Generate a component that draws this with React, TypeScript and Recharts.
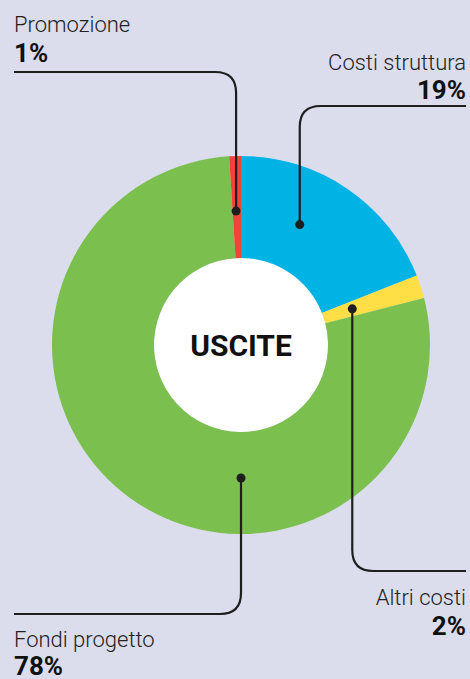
import { PieChart, Pie, Cell } from 'recharts'

const categories = ['Costi struttura', 'Altri costi', 'Fondi progetto', 'Promozione']
const shares = [19, 2, 78, 1]
const colors = ['#00b3e5', '#ffdf45', '#7bbf4f', '#f2433a']
const centerTitle = 'USCITE'

const data = categories.map((name, i) => ({ name, value: shares[i] }))

const W = 470
const H = 679
const CX = 241
const CY = 345
const OUTER = 189
const INNER = 87
const CORNER = 21

// where each leader starts (angle clockwise from 12 o'clock, radius) and where its text sits
const LABELS: Record<
  string,
  { angle: number; r: number; side: 'left' | 'right'; lineY: number; nameY: number; valueY: number }
> = {
  'Costi struttura': { angle: 26, r: 134, side: 'right', lineY: 106, nameY: 70, valueY: 99 },
  'Altri costi': { angle: 72, r: 117, side: 'right', lineY: 571, nameY: 605, valueY: 635 },
  'Fondi progetto': { angle: 180, r: 133, side: 'left', lineY: 614, nameY: 647, valueY: 675 },
  Promozione: { angle: -2.1, r: 134, side: 'left', lineY: 72, nameY: 32, valueY: 62 },
}

const LEFT_X = 14
const RIGHT_X = 466

function renderLabel(props: any) {
  const l = LABELS[props.name]
  if (!l) return null
  const cx = Number(props.cx ?? CX)
  const cy = Number(props.cy ?? CY)
  const rad = (l.angle * Math.PI) / 180
  const dx = cx + l.r * Math.sin(rad)
  const dy = cy - l.r * Math.cos(rad)
  const endX = l.side === 'left' ? LEFT_X : RIGHT_X
  const hDir = l.side === 'left' ? -1 : 1
  const vDir = l.lineY < dy ? -1 : 1
  const d = [
    `M ${dx} ${dy}`,
    `L ${dx} ${l.lineY - vDir * CORNER}`,
    `Q ${dx} ${l.lineY} ${dx + hDir * CORNER} ${l.lineY}`,
    `L ${endX} ${l.lineY}`,
  ].join(' ')
  const anchor = l.side === 'left' ? 'start' : 'end'
  return (
    <g key={`lbl-${props.name}`}>
      <path d={d} fill="none" stroke="#1e1e1e" strokeWidth={2.2} />
      <circle cx={dx} cy={dy} r={4.5} fill="#1e1e1e" />
      <text x={endX} y={l.nameY} textAnchor={anchor} fontFamily="Roboto" fontWeight={300} fontSize={22} fill="#222">
        {props.name}
      </text>
      <text x={endX} y={l.valueY} textAnchor={anchor} fontFamily="Roboto" fontWeight={700} fontSize={26} fill="#111">
        {`${props.value}%`}
      </text>
    </g>
  )
}

function renderCenter(props: any) {
  const cx = Number(props.cx ?? CX)
  const cy = Number(props.cy ?? CY)
  return (
    <text key="center" x={cx} y={cy + 11} textAnchor="middle" fontFamily="Roboto" fontWeight={700} fontSize={30} fill="#111">
      {centerTitle}
    </text>
  )
}

export default function App() {
  return (
    <div style={{ position: 'fixed', left: 0, top: 0, width: W, height: H, background: '#dbdded' }}>
      <PieChart width={W} height={H} margin={{ top: 0, right: 0, bottom: 0, left: 0 }}>
        <Pie
          data={[{ name: 'hole', value: 1 }]}
          dataKey="value"
          cx={CX}
          cy={CY}
          innerRadius={0}
          outerRadius={INNER}
          fill="#ffffff"
          stroke="none"
          label={renderCenter}
          labelLine={false}
          isAnimationActive={false}
        />
        <Pie
          data={data}
          dataKey="value"
          nameKey="name"
          cx={CX}
          cy={CY}
          innerRadius={INNER}
          outerRadius={OUTER}
          startAngle={90}
          endAngle={-270}
          stroke="none"
          label={renderLabel}
          labelLine={false}
          isAnimationActive={false}
        >
          {data.map((d, i) => (
            <Cell key={d.name} fill={colors[i]} />
          ))}
        </Pie>
      </PieChart>
    </div>
  )
}
